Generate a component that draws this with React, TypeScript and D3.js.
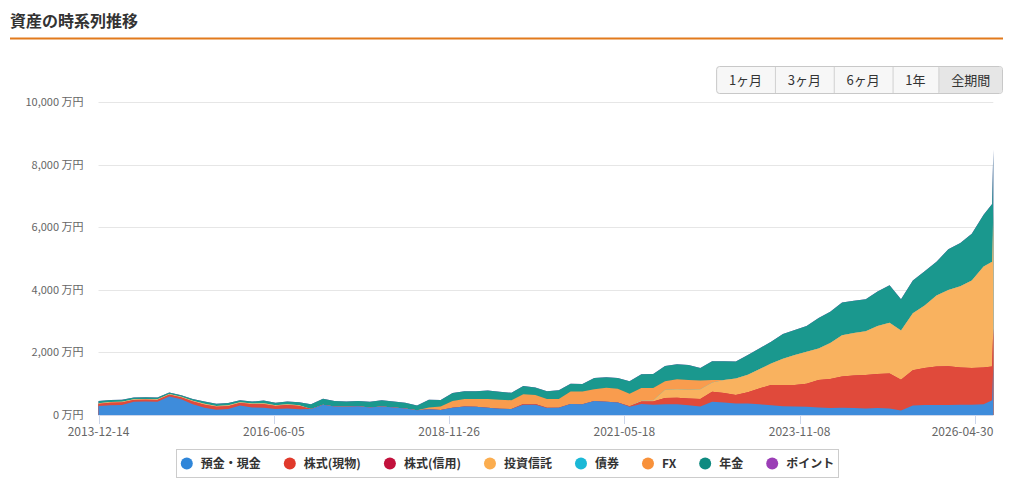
import { useEffect, useRef } from 'react';
import * as d3 from 'd3';

// bi-monthly samples (万円)
const dates = [
  '2013-12-14', '2014-02-14', '2014-04-14', '2014-06-14', '2014-08-14', '2014-10-14', '2014-12-14',
  '2015-02-14', '2015-04-14', '2015-06-14', '2015-08-14', '2015-10-14', '2015-12-14',
  '2016-02-14', '2016-04-14', '2016-06-14', '2016-08-14', '2016-10-14', '2016-12-14',
  '2017-02-14', '2017-04-14', '2017-06-14', '2017-08-14', '2017-10-14', '2017-12-14',
  '2018-02-14', '2018-04-14', '2018-06-14', '2018-08-14', '2018-10-14', '2018-12-14',
  '2019-02-14', '2019-04-14', '2019-06-14', '2019-08-14', '2019-10-14', '2019-12-14',
  '2020-02-14', '2020-04-14', '2020-06-14', '2020-08-14', '2020-10-14', '2020-12-14',
  '2021-02-14', '2021-04-14', '2021-06-14', '2021-08-14', '2021-10-14', '2021-12-14',
  '2022-02-14', '2022-04-14', '2022-06-14', '2022-08-14', '2022-10-14', '2022-12-14',
  '2023-02-14', '2023-04-14', '2023-06-14', '2023-08-14', '2023-10-14', '2023-12-14',
  '2024-02-14', '2024-04-14', '2024-06-14', '2024-08-14', '2024-10-14', '2024-12-14',
  '2025-02-14', '2025-04-14', '2025-06-14', '2025-08-14', '2025-10-14', '2025-12-14',
  '2026-02-14', '2026-04-14', '2026-06-14', '2026-07-28', '2026-08-03',
];

const cash = [
  290, 310, 320, 420, 430, 420, 590,
  500, 340, 230, 170, 190, 300,
  240, 230, 190, 210, 180, 190,
  330, 270, 260, 280, 240, 270,
  240, 210, 150, 180, 160, 230,
  270, 260, 230, 200, 190, 330,
  330, 220, 230, 350, 340, 450,
  420, 400, 260, 350, 330, 340,
  340, 310, 270, 420, 400, 370,
  370, 340, 310, 280, 270, 260,
  240, 220, 230, 220, 210, 220,
  210, 140, 300, 320, 320, 320,
  330, 330, 340, 470, 1600,
];

const stockSpot = [
  60, 80, 80, 60, 60, 60, 55,
  60, 90, 100, 90, 90, 80,
  100, 110, 100, 110, 110, 0,
  0, 0, 0, 0, 0, 0,
  0, 0, 0, 0, 0, 0,
  0, 0, 0, 0, 0, 20,
  20, 10, 0, 0, 0, 0,
  0, 0, 20, 80, 100, 200,
  210, 220, 240, 320, 300, 270,
  360, 510, 650, 680, 690, 740,
  880, 930, 1000, 1040, 1070, 1090,
  1120, 990, 1130, 1180, 1230, 1240,
  1190, 1170, 1180, 1080, 1170,
];

const stockMargin = [
  0, 0, 0, 0, 0, 0, 0,
  0, 0, 0, 0, 0, 0,
  0, 0, 0, 0, 0, 0,
  0, 0, 0, 0, 0, 0,
  0, 0, 0, 0, 0, 0,
  0, 0, 0, 0, 0, 0,
  0, 0, 0, 0, 0, 0,
  0, 0, 0, 0, 0, 0,
  0, 0, 0, 0, 0, 0,
  0, 0, 0, 0, 0, 0,
  0, 0, 0, 0, 0, 0,
  0, 0, 0, 0, 0, 0,
  0, 0, 0, 0, 0,
];

const investmentTrust = [
  25, 25, 25, 25, 25, 25, 25,
  20, 25, 30, 30, 30, 25,
  30, 35, 25, 25, 25, 0,
  0, 0, 0, 0, 0, 0,
  0, 0, 0, 0, 0, 0,
  0, 0, 0, 0, 0, 0,
  0, 0, 0, 0, 0, 0,
  0, 0, 0, 30, 40, 270,
  270, 280, 310, 300, 420, 530,
  560, 610, 690, 840, 960, 1020,
  1010, 1150, 1320, 1360, 1400, 1540,
  1620, 1570, 1820, 2000, 2270, 2440,
  2600, 2800, 3230, 3350, 3310,
];

const bonds = [
  0, 0, 0, 0, 0, 0, 0,
  0, 0, 0, 0, 0, 0,
  0, 0, 0, 0, 0, 0,
  0, 0, 0, 0, 0, 0,
  0, 0, 0, 0, 0, 0,
  0, 0, 0, 0, 0, 0,
  0, 0, 0, 0, 0, 0,
  0, 0, 0, 0, 0, 0,
  0, 0, 0, 0, 0, 0,
  0, 0, 0, 0, 0, 0,
  0, 0, 0, 0, 0, 0,
  0, 0, 0, 0, 0, 0,
  0, 0, 0, 0, 500,
];

const fx = [
  0, 0, 0, 0, 0, 0, 0,
  0, 0, 0, 0, 0, 0,
  0, 0, 0, 0, 0, 0,
  0, 0, 0, 0, 0, 0,
  0, 0, 0, 60, 110, 220,
  240, 250, 280, 290, 280, 310,
  290, 280, 280, 400, 410, 370,
  450, 440, 400, 400, 390, 270,
  320, 310, 280, 80, 0, 0,
  0, 0, 0, 0, 0, 0,
  0, 0, 0, 0, 0, 0,
  0, 0, 0, 0, 0, 0,
  0, 0, 0, 0, 0,
];

const pension = [
  75, 65, 65, 55, 55, 55, 50,
  50, 55, 70, 70, 70, 65,
  60, 85, 75, 85, 95, 150,
  190, 180, 170, 170, 180, 200,
  190, 180, 150, 250, 210, 250,
  250, 250, 270, 250, 240, 270,
  240, 250, 280, 250, 240, 360,
  340, 340, 400, 440, 450, 490,
  480, 480, 400, 600, 600, 540,
  630, 670, 690, 790, 800, 830,
  970, 1000, 1050, 1030, 1020, 1100,
  1200, 1000, 1050, 1100, 1080, 1300,
  1380, 1500, 1650, 1850, 1900,
];

const points = [
  0, 0, 0, 0, 0, 0, 0,
  0, 0, 0, 0, 0, 0,
  0, 0, 0, 0, 0, 0,
  0, 0, 0, 0, 0, 0,
  0, 0, 0, 0, 0, 0,
  0, 0, 0, 0, 0, 0,
  0, 0, 0, 0, 0, 0,
  0, 0, 0, 0, 0, 0,
  0, 0, 0, 0, 0, 0,
  0, 0, 0, 0, 0, 0,
  0, 0, 0, 0, 0, 0,
  0, 0, 0, 0, 0, 0,
  0, 0, 0, 0, 0,
];

const seriesNames = ['預金・現金', '株式(現物)', '株式(信用)', '投資信託', '債券', 'FX', '年金', 'ポイント'];
const seriesValues = [cash, stockSpot, stockMargin, investmentTrust, bonds, fx, pension, points];

const xTickDates = ['2013-12-14', '2016-06-05', '2018-11-26', '2021-05-18', '2023-11-08', '2026-04-30'];
const yTicks = [0, 2000, 4000, 6000, 8000, 10000];
const rangeButtons = ['1ヶ月', '3ヶ月', '6ヶ月', '1年', '全期間'];

// area fills (as rendered) and legend symbol colours
const AREA_COLORS = ['#3e8cdb', '#e04a3b', '#c72a4f', '#f9b25f', '#33bfdb', '#f99c4e', '#1a988e', '#a552bd'];
const DOT_COLORS = ['#2f86d9', '#e0392b', '#c2113c', '#fbad4f', '#1bb8d6', '#f8913a', '#0f8a80', '#9b3eb6'];

const FONT = '"Noto Sans CJK JP", "Noto Sans", sans-serif';

function AssetChart() {
  const svgRef = useRef<SVGSVGElement>(null);

  useEffect(() => {
    if (!svgRef.current) return;
    const svg = d3.select(svgRef.current);
    svg.selectAll('*').remove();

    const width = 1011;
    const height = 483;
    const plot = { left: 98.5, right: 993.3, top: 102.3, bottom: 415 };
    const parse = d3.timeParse('%Y-%m-%d');
    const parsed = dates.map((d) => parse(d) as Date);

    svg.attr('viewBox', `0 0 ${width} ${height}`).style('font-family', FONT);

    // Title
    svg
      .append('text')
      .attr('x', 10)
      .attr('y', 27)
      .attr('font-size', 16)
      .attr('font-weight', 'bold')
      .attr('fill', '#333')
      .text('資産の時系列推移');

    svg
      .append('rect')
      .attr('x', 10)
      .attr('y', 37.5)
      .attr('width', 993)
      .attr('height', 2)
      .attr('fill', '#e27a1c');

    // Range buttons (right aligned)
    const btnG = svg.append('g');
    const btnTop = 66;
    const btnH = 27;
    const measure = btnG
      .selectAll('text.m')
      .data(rangeButtons)
      .join('text')
      .attr('font-size', 13)
      .text((d) => d);
    const btnWidths: number[] = [];
    measure.each(function () {
      btnWidths.push((this as SVGTextElement).getComputedTextLength() + 25.6);
    });
    measure.remove();
    const totalBtn = d3.sum(btnWidths);
    let bx = 1003 - totalBtn;
    btnG
      .append('rect')
      .attr('x', bx + 0.5)
      .attr('y', btnTop + 0.5)
      .attr('width', totalBtn - 1)
      .attr('height', btnH)
      .attr('rx', 3)
      .attr('fill', '#f7f7f7')
      .attr('stroke', '#c8c8c8');
    rangeButtons.forEach((label, i) => {
      const w = btnWidths[i];
      if (i === rangeButtons.length - 1) {
        btnG
          .append('rect')
          .attr('x', bx + 0.5)
          .attr('y', btnTop + 1)
          .attr('width', w - 1.5)
          .attr('height', btnH - 1)
          .attr('rx', 2)
          .attr('fill', '#e6e6e6');
      }
      if (i > 0) {
        btnG
          .append('line')
          .attr('x1', bx + 0.5)
          .attr('x2', bx + 0.5)
          .attr('y1', btnTop + 1)
          .attr('y2', btnTop + btnH)
          .attr('stroke', '#d0d0d0');
      }
      btnG
        .append('text')
        .attr('x', bx + w / 2)
        .attr('y', btnTop + btnH / 2 + 1)
        .attr('dy', '0.35em')
        .attr('text-anchor', 'middle')
        .attr('font-size', 13)
        .attr('fill', '#333')
        .text(label);
      bx += w;
    });

    // Scales
    const x = d3
      .scaleTime()
      .domain([parsed[0], parsed[parsed.length - 1]])
      .range([plot.left, plot.right]);
    const y = d3.scaleLinear().domain([0, 10000]).range([plot.bottom, plot.top]);

    // Grid
    svg
      .append('g')
      .selectAll('line')
      .data(yTicks)
      .join('line')
      .attr('x1', plot.left)
      .attr('x2', plot.right)
      .attr('y1', (d) => Math.round(y(d)) + 0.5)
      .attr('y2', (d) => Math.round(y(d)) + 0.5)
      .attr('stroke', '#e6e6e6');

    svg
      .append('g')
      .selectAll('text')
      .data(yTicks)
      .join('text')
      .attr('x', 83.5)
      .attr('y', (d) => y(d))
      .attr('dy', '0.35em')
      .attr('text-anchor', 'end')
      .attr('font-size', 11)
      .attr('fill', '#666')
      .text((d) => `${d3.format(',')(d)} 万円`);

    // Stacked areas
    const idx = d3.range(dates.length);
    const stacked = d3
      .stack<number, number>()
      .keys(d3.range(seriesValues.length))
      .value((i, k) => seriesValues[k][i])(idx);

    const area = d3
      .area<d3.SeriesPoint<number>>()
      .x((d) => x(parsed[d.data]))
      .y0(plot.bottom)
      .y1((d) => y(d[1]));

    // draw top layer first, each from the baseline, so lower layers paint over without seams
    svg
      .append('g')
      .selectAll('path')
      .data(stacked.slice().reverse())
      .join('path')
      .attr('fill', (s) => AREA_COLORS[s.key])
      .attr('d', (s) => area(s) as string);

    // X axis
    const xAxis = svg.append('g');
    xAxis
      .append('line')
      .attr('x1', plot.left)
      .attr('x2', plot.right)
      .attr('y1', plot.bottom + 0.5)
      .attr('y2', plot.bottom + 0.5)
      .attr('stroke', '#ccd6eb');
    const xTicks = xTickDates.map((d) => parse(d) as Date);
    xAxis
      .selectAll('line.tick')
      .data(xTicks)
      .join('line')
      .attr('class', 'tick')
      .attr('x1', (d) => Math.round(x(d)) + 0.5)
      .attr('x2', (d) => Math.round(x(d)) + 0.5)
      .attr('y1', plot.bottom)
      .attr('y2', plot.bottom + 9)
      .attr('stroke', '#ccd6eb');
    const xLabels = xAxis
      .selectAll('text')
      .data(xTicks)
      .join('text')
      .attr('x', (d) => x(d))
      .attr('y', 436)
      .attr('text-anchor', 'middle')
      .attr('font-size', 12)
      .attr('fill', '#666')
      .text((d) => d3.timeFormat('%Y-%m-%d')(d));
    // keep the last label inside the plot's right edge
    xLabels.each(function (d) {
      const half = (this as SVGTextElement).getComputedTextLength() / 2;
      if (x(d) + half > plot.right) {
        d3.select(this).attr('x', plot.right).attr('text-anchor', 'end');
      }
    });

    // Legend
    const legend = svg.append('g');
    const box = { x: 176.5, y: 449.5, w: 662, h: 28 };
    legend
      .append('rect')
      .attr('x', box.x)
      .attr('y', box.y)
      .attr('width', box.w)
      .attr('height', box.h)
      .attr('fill', '#fff')
      .attr('stroke', '#cccccc');

    const items = legend
      .selectAll('g.item')
      .data(seriesNames)
      .join('g')
      .attr('class', 'item');
    items
      .append('circle')
      .attr('r', 6)
      .attr('cx', 6)
      .attr('cy', 0)
      .attr('fill', (_, i) => DOT_COLORS[i]);
    items
      .append('text')
      .attr('x', 20)
      .attr('y', 0)
      .attr('dy', '0.36em')
      .attr('font-size', 12)
      .attr('font-weight', 'bold')
      .attr('fill', '#333')
      .text((d) => d);

    const itemWidths: number[] = [];
    items.select('text').each(function () {
      itemWidths.push(20 + (this as SVGTextElement).getComputedTextLength());
    });
    const gap = 23;
    const legendWidth = d3.sum(itemWidths) + gap * (itemWidths.length - 1);
    let lx = box.x + box.w / 2 - legendWidth / 2;
    items.attr('transform', (_, i) => {
      const t = `translate(${lx},${box.y + box.h / 2})`;
      lx += itemWidths[i] + gap;
      return t;
    });
  }, []);

  return (
    <svg
      ref={svgRef}
      width={1011}
      height={483}
      style={{ position: 'absolute', left: 0, top: 0, background: '#fff' }}
    />
  );
}

export default function App() {
  return <AssetChart />;
}
